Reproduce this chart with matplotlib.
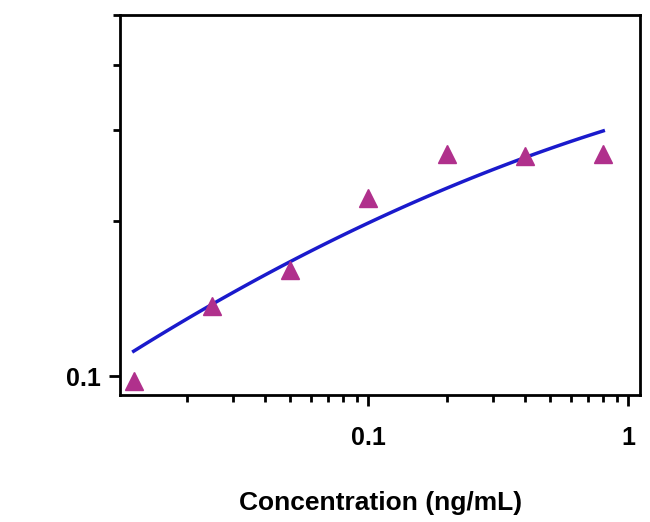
import numpy as np
import matplotlib
matplotlib.use("Agg")
import matplotlib.pyplot as plt
from matplotlib.ticker import FixedLocator, NullFormatter, LogLocator

conc = [0.0125, 0.025, 0.05, 0.1, 0.2, 0.4, 0.8]
od = [0.098, 0.137, 0.161, 0.221, 0.269, 0.267, 0.269]
# fitted curve parameters (log-log quadratic about conc=0.1)
fit_a, fit_b, fit_c = -0.703, 0.236, -0.043

plt.rcParams['font.family'] = ['Liberation Sans', 'DejaVu Sans']
fig = plt.figure(figsize=(6.5, 5.22), dpi=100)
ax = fig.add_axes([0.185, 0.243, 0.80, 0.728])
ax.set_xscale('log'); ax.set_yscale('log')
ax.set_xlim(0.0111, 1.11)
ax.set_ylim(0.092, 0.5)

xs = np.linspace(np.log10(0.0125), np.log10(0.8), 100)
u = xs + 1
ax.plot(10**xs, 10**(fit_a + fit_b*u + fit_c*u**2), color='#1a1acc', lw=2.5)
ax.plot(conc, od, '^', color='#b0308c', ms=13, ls='none')

ax.xaxis.set_major_locator(FixedLocator([0.1, 1]))
ax.set_xticklabels(['0.1', '1'])
ax.xaxis.set_minor_locator(LogLocator(base=10, subs=np.arange(2, 10)))
ax.xaxis.set_minor_formatter(NullFormatter())
ax.yaxis.set_major_locator(FixedLocator([0.1]))
ax.set_yticklabels(['0.1'])
ax.yaxis.set_minor_locator(FixedLocator([0.2, 0.3, 0.4, 0.5]))
ax.yaxis.set_minor_formatter(NullFormatter())
ax.tick_params(which='major', length=8, width=2, labelsize=18, pad=14)
ax.tick_params(axis='y', which='major', pad=6)
ax.tick_params(which='minor', length=5, width=2)
for s in ax.spines.values():
    s.set_linewidth(2)
for t in ax.get_xticklabels() + ax.get_yticklabels():
    t.set_fontweight('bold')
ax.set_xlabel('Concentration (ng/mL)', fontsize=19, fontweight='bold', labelpad=30)
ax.set_ylabel('O.D.', fontsize=19, fontweight='bold', labelpad=60)
fig.savefig('out.png')
